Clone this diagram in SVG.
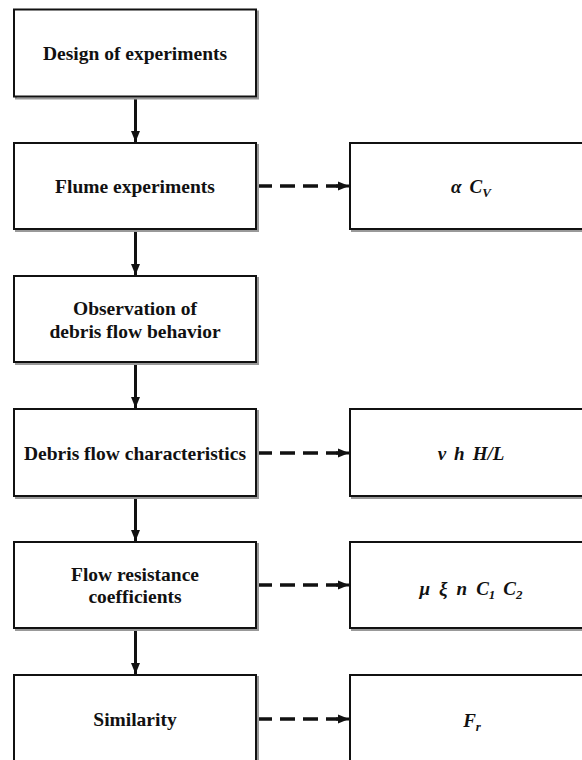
<svg xmlns="http://www.w3.org/2000/svg" width="582" height="760" viewBox="0 0 582 760">
<defs>
<style>
.box{fill:#fff;stroke:#111;stroke-width:2}
.sh{fill:none;stroke:#999;stroke-width:2}
.lbl{font-family:"Liberation Serif","Times New Roman",serif;font-weight:bold;font-size:19.5px;fill:#111;text-anchor:middle}
.sym{font-family:"Liberation Serif","Times New Roman",serif;font-weight:bold;font-style:italic;font-size:19px;fill:#111;text-anchor:middle}
.sub{font-size:13px}
.solid{stroke:#111;stroke-width:3;fill:none}
.dash{stroke:#111;stroke-width:3.5;fill:none;stroke-dasharray:15 8}
</style>
<marker id="ah" markerUnits="userSpaceOnUse" markerWidth="12" markerHeight="12" viewBox="0 0 12 12" refX="11" refY="6" orient="auto">
<path d="M0,1.5 L11,6 L0,10.5 Z" fill="#111"/>
</marker>
</defs>
<rect width="582" height="760" fill="#fff"/>

<g id="connectors">
<line class="solid" x1="135.5" y1="98" x2="135.5" y2="142" marker-end="url(#ah)"/>
<line class="solid" x1="135.5" y1="230" x2="135.5" y2="275" marker-end="url(#ah)"/>
<line class="solid" x1="135.5" y1="363" x2="135.5" y2="408" marker-end="url(#ah)"/>
<line class="solid" x1="135.5" y1="497" x2="135.5" y2="541" marker-end="url(#ah)"/>
<line class="solid" x1="135.5" y1="629" x2="135.5" y2="674" marker-end="url(#ah)"/>
<line class="dash" x1="257" y1="186" x2="338" y2="186"/>
<line class="solid" x1="336" y1="186" x2="349" y2="186" marker-end="url(#ah)"/>
<line class="dash" x1="257" y1="453" x2="338" y2="453"/>
<line class="solid" x1="336" y1="453" x2="349" y2="453" marker-end="url(#ah)"/>
<line class="dash" x1="257" y1="585" x2="338" y2="585"/>
<line class="solid" x1="336" y1="585" x2="349" y2="585" marker-end="url(#ah)"/>
<line class="dash" x1="257" y1="719" x2="338" y2="719"/>
<line class="solid" x1="336" y1="719" x2="349" y2="719" marker-end="url(#ah)"/>
</g>

<g id="n1">
<rect class="sh" x="16" y="11.5" width="242" height="87"/>
<rect class="box" x="14" y="9.5" width="242" height="87"/>
<text class="lbl" x="135" y="60">Design of experiments</text>
</g>
<g id="n2">
<rect class="sh" x="16" y="145" width="242" height="86"/>
<rect class="box" x="14" y="143" width="242" height="86"/>
<text class="lbl" x="135" y="193">Flume experiments</text>
</g>
<g id="n3">
<rect class="sh" x="16" y="278" width="242" height="86"/>
<rect class="box" x="14" y="276" width="242" height="86"/>
<text class="lbl" x="135" y="315">Observation of</text>
<text class="lbl" x="135" y="338">debris flow behavior</text>
</g>
<g id="n4">
<rect class="sh" x="16" y="411" width="242" height="87"/>
<rect class="box" x="14" y="409" width="242" height="87"/>
<text class="lbl" x="135" y="460">Debris flow characteristics</text>
</g>
<g id="n5">
<rect class="sh" x="16" y="544" width="242" height="86"/>
<rect class="box" x="14" y="542" width="242" height="86"/>
<text class="lbl" x="135" y="581">Flow resistance</text>
<text class="lbl" x="135" y="603">coefficients</text>
</g>
<g id="n6">
<rect class="sh" x="16" y="677" width="242" height="86"/>
<rect class="box" x="14" y="675" width="242" height="86"/>
<text class="lbl" x="135" y="726">Similarity</text>
</g>

<g id="r2">
<rect class="sh" x="352" y="145" width="250" height="86"/>
<rect class="box" x="350" y="143" width="250" height="86"/>
<text class="sym" x="471" y="193">α<tspan dx="8">C</tspan><tspan class="sub" dy="4">V</tspan></text>
</g>
<g id="r4">
<rect class="sh" x="352" y="411" width="250" height="87"/>
<rect class="box" x="350" y="409" width="250" height="87"/>
<text class="sym" x="471" y="460">v<tspan dx="8">h</tspan><tspan dx="8">H/L</tspan></text>
</g>
<g id="r5">
<rect class="sh" x="352" y="544" width="250" height="86"/>
<rect class="box" x="350" y="542" width="250" height="86"/>
<text class="sym" x="471" y="595">μ<tspan dx="9">ξ</tspan><tspan dx="9">n</tspan><tspan dx="9">C</tspan><tspan class="sub" dy="4">1</tspan><tspan dx="8" dy="-4">C</tspan><tspan class="sub" dy="4">2</tspan></text>
</g>
<g id="r6">
<rect class="sh" x="352" y="677" width="250" height="86"/>
<rect class="box" x="350" y="675" width="250" height="86"/>
<text class="sym" x="472" y="727">F<tspan class="sub" dy="4">r</tspan></text>
</g>
</svg>
